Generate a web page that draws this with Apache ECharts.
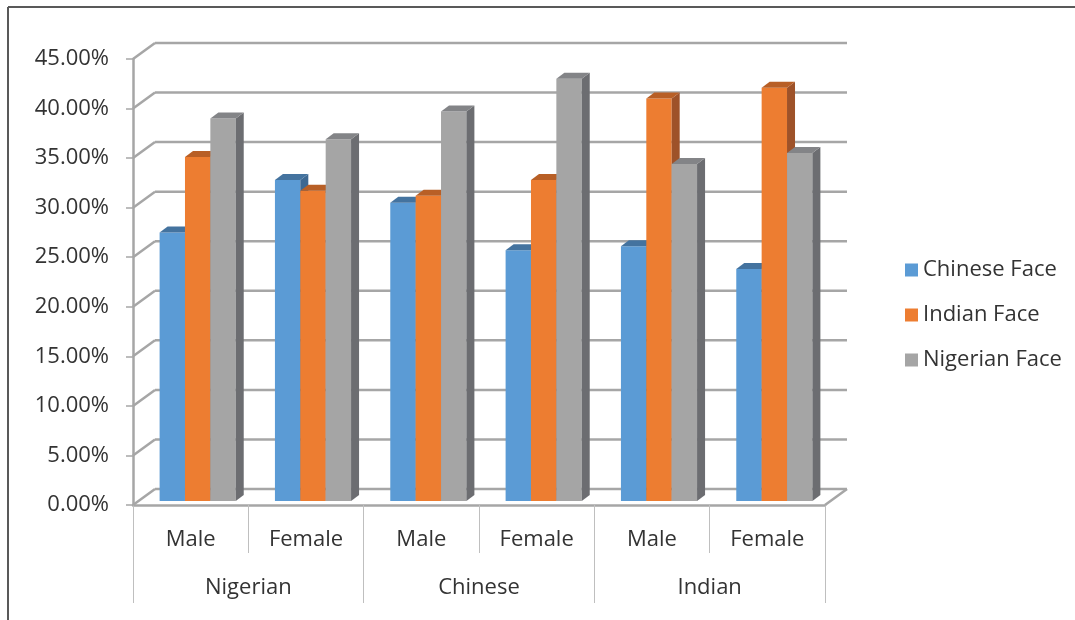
<!DOCTYPE html>
<html>
<head>
<meta charset="utf-8">
<script src="https://cdn.jsdelivr.net/npm/echarts@6/dist/echarts.min.js"></script>
<style>
html,body{margin:0;padding:0;background:#fff;}
#c{width:1075px;height:620px;}
</style>
</head>
<body>
<div id="c"></div>
<script>
var categories = ['Male', 'Female', 'Male', 'Female', 'Male', 'Female'];
var groups = ['Nigerian', 'Chinese', 'Indian'];
var seriesNames = ['Chinese Face', 'Indian Face', 'Nigerian Face'];
var chineseFace = [0.271, 0.324, 0.301, 0.253, 0.257, 0.234];
var indianFace = [0.347, 0.313, 0.308, 0.324, 0.406, 0.417];
var nigerianFace = [0.386, 0.365, 0.393, 0.426, 0.340, 0.351];
var yTicks = [0, 0.05, 0.10, 0.15, 0.20, 0.25, 0.30, 0.35, 0.40, 0.45];

var FONT = '"Open Sans", sans-serif';
var FS = 22;
var TEXT = '#333333';
var GRID = '#a6a6a6';
var WALL_DX = 22, WALL_DY = -16;
var BAR_OFF_X = 7, BAR_OFF_Y = -4;
var BAR_DX = 8, BAR_DY = -6;
var BAR_FRAC = 0.22;

var palettes = [
  {front: '#5b9bd5', top: '#44739f', side: '#3d6892'},
  {front: '#ed7d31', top: '#b85f26', side: '#9e5229'},
  {front: '#a5a5a5', top: '#838487', side: '#6c6d71'}
];

function toPairs(arr) { return arr.map(function (v, i) { return [i, v]; }); }

function barRender(sIdx) {
  var pal = palettes[sIdx];
  return function (params, api) {
    var cat = api.value(0), v = api.value(1);
    var base = api.coord([cat, 0]);
    var top = api.coord([cat, v]);
    var band = api.size([1, 0])[0];
    var bw = band * BAR_FRAC;
    var x0 = base[0] - 1.5 * bw + BAR_OFF_X + sIdx * bw;
    var yb = base[1] + BAR_OFF_Y;
    var yt = top[1] + BAR_OFF_Y;
    return {
      type: 'group',
      children: [
        {type: 'rect', shape: {x: x0, y: yt, width: bw, height: yb - yt}, style: {fill: pal.front}},
        {type: 'polygon', shape: {points: [[x0 + bw, yt], [x0 + bw + BAR_DX, yt + BAR_DY], [x0 + bw + BAR_DX, yb + BAR_DY], [x0 + bw, yb]]}, style: {fill: pal.side}},
        {type: 'polygon', shape: {points: [[x0, yt], [x0 + bw, yt], [x0 + bw + BAR_DX, yt + BAR_DY], [x0 + BAR_DX, yt + BAR_DY]]}, style: {fill: pal.top}}
      ]
    };
  };
}

function frameRender(params, api) {
  var cs = params.coordSys;
  var v = api.value(0);
  var p = api.coord([0, v]);
  var left = cs.x, right = cs.x + cs.width, y = p[1];
  var st = {stroke: GRID, lineWidth: 2.5};
  var children = [
    {type: 'line', shape: {x1: left, y1: y, x2: left + WALL_DX, y2: y + WALL_DY}, style: st},
    {type: 'line', shape: {x1: left + WALL_DX, y1: y + WALL_DY, x2: right + WALL_DX, y2: y + WALL_DY}, style: st}
  ];
  if (v === 0) {
    children.push({type: 'line', shape: {x1: right, y1: y, x2: right + WALL_DX, y2: y + WALL_DY}, style: st});
  }
  return {type: 'group', children: children};
}

var chart = echarts.init(document.getElementById('c'));
var seriesData = [chineseFace, indianFace, nigerianFace];

var series = [{
  type: 'custom',
  name: 'frame',
  renderItem: frameRender,
  data: yTicks.map(function (t) { return [t]; }),
  encode: {y: 0},
  silent: true,
  z: 1
}];
seriesData.forEach(function (arr, i) {
  series.push({
    type: 'custom',
    name: seriesNames[i],
    renderItem: barRender(i),
    data: toPairs(arr),
    encode: {x: 0, y: 1},
    itemStyle: {color: palettes[i].front},
    z: 3
  });
});

chart.setOption({
  animation: false,
  backgroundColor: '#fff',
  textStyle: {fontFamily: FONT},
  grid: {left: 133, top: 59, right: 250, bottom: 115, containLabel: false},
  legend: {
    data: seriesNames,
    orient: 'vertical',
    left: 900,
    top: 254,
    itemWidth: 13,
    itemHeight: 13,
    itemGap: 23,
    icon: 'rect',
    textStyle: {fontFamily: FONT, fontSize: FS, color: TEXT, lineHeight: 22}
  },
  xAxis: [{
    type: 'category',
    data: categories,
    position: 'bottom',
    axisLine: {show: true, lineStyle: {color: GRID, width: 2.5}},
    axisTick: {show: true, length: 48, lineStyle: {color: '#bfbfbf', width: 1}, alignWithLabel: false},
    axisLabel: {margin: 24, fontSize: FS, color: TEXT, fontFamily: FONT},
    splitLine: {show: false}
  }, {
    type: 'category',
    data: groups,
    position: 'bottom',
    axisLine: {show: false},
    axisTick: {show: true, length: 98, lineStyle: {color: '#bfbfbf', width: 1}},
    axisLabel: {margin: 72, fontSize: FS, color: TEXT, fontFamily: FONT},
    splitLine: {show: false}
  }],
  yAxis: {
    type: 'value',
    min: 0,
    max: 0.45,
    interval: 0.05,
    axisLine: {show: true, lineStyle: {color: GRID, width: 2.5}},
    axisTick: {show: true, length: 7, lineStyle: {color: GRID, width: 1.5}},
    axisLabel: {margin: 24, fontSize: FS, color: TEXT, fontFamily: FONT,
      formatter: function (v) { return (v * 100).toFixed(2) + '%'; }},
    splitLine: {show: false}
  },
  graphic: [
    {type: 'line', shape: {x1: 8, y1: 7, x2: 1075, y2: 7}, style: {stroke: '#595959', lineWidth: 2}},
    {type: 'line', shape: {x1: 8, y1: 7, x2: 8, y2: 620}, style: {stroke: '#595959', lineWidth: 2}}
  ],
  series: series
});
</script>
</body>
</html>
